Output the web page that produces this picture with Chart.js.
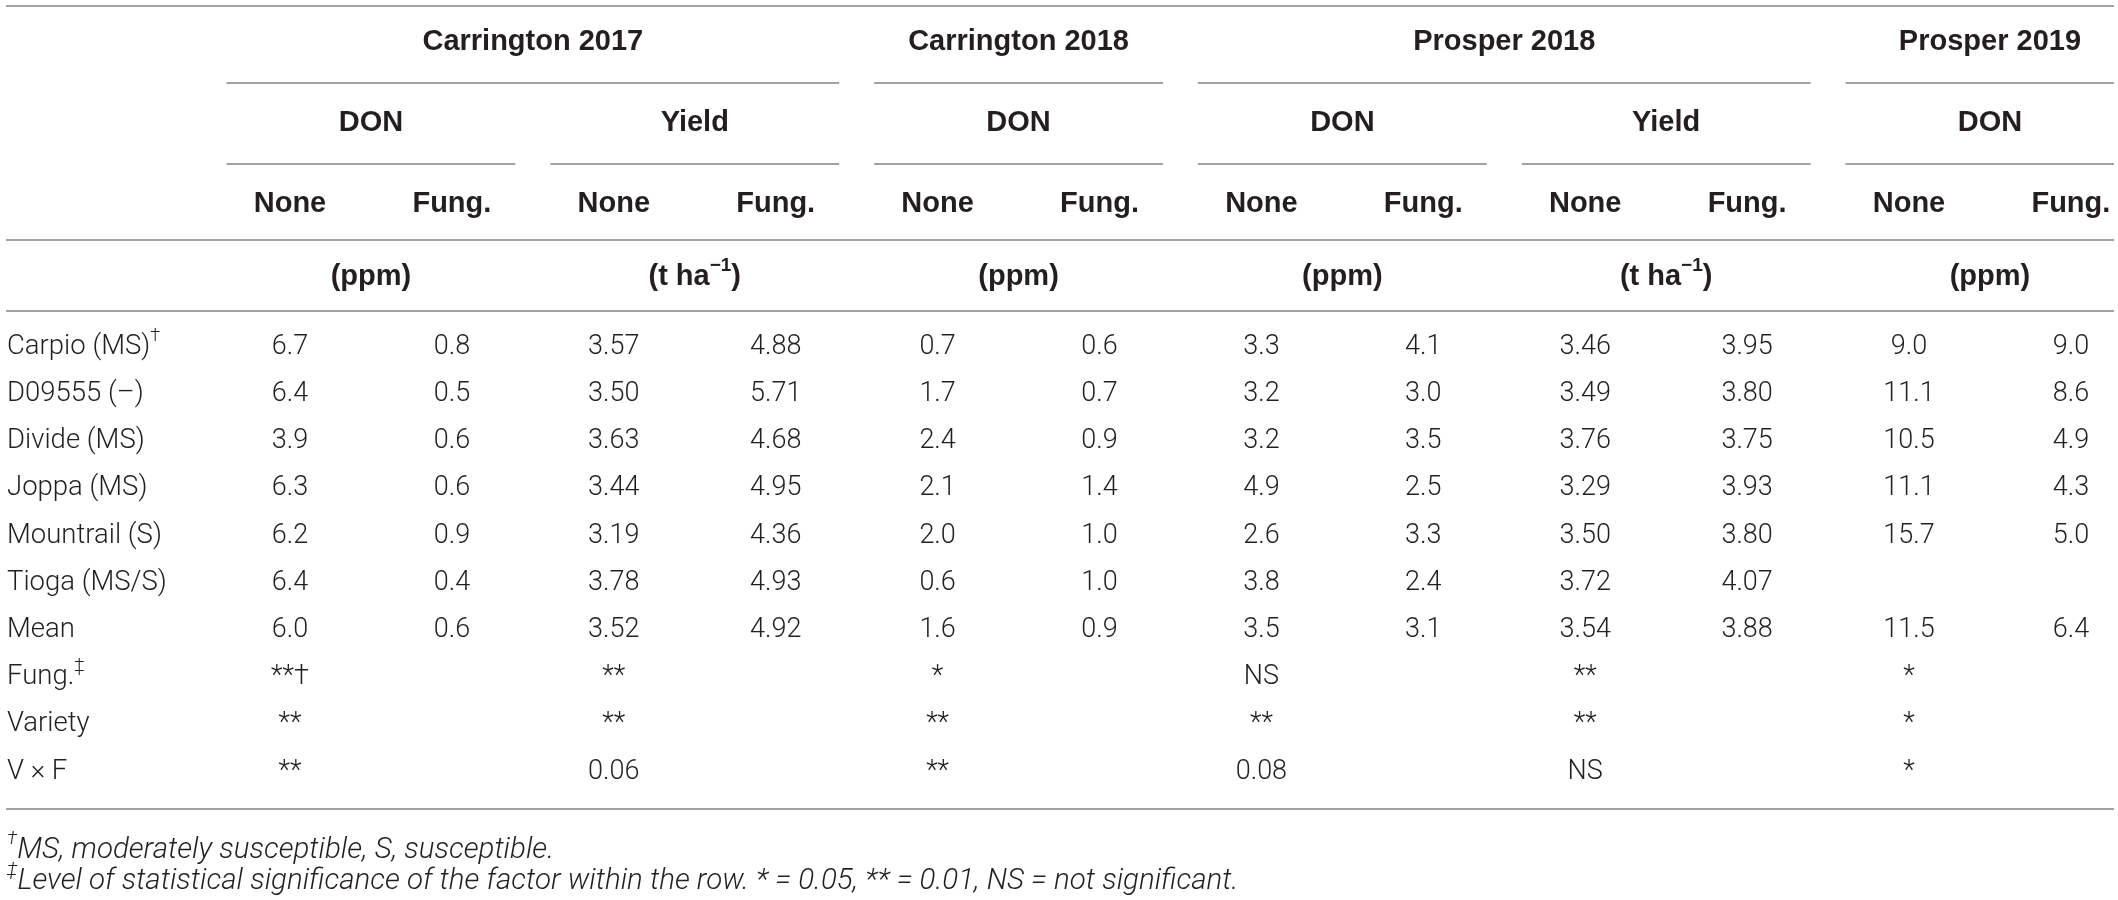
<!DOCTYPE html>
<html>
<head>
<meta charset="utf-8">
<script src="https://cdn.jsdelivr.net/npm/chart.js@4.4.1/dist/chart.umd.min.js"></script>
<style>
  html, body { margin: 0; padding: 0; background: #fff; }
  #wrap { width: 2118px; height: 900px; }
</style>
</head>
<body>
<div id="wrap"><canvas id="table" width="2118" height="900"></canvas></div>
<script>
// --- header categories ---
const sites = ['Carrington 2017', 'Carrington 2018', 'Prosper 2018', 'Prosper 2019']
const traits = ['DON', 'Yield', 'DON', 'DON', 'Yield', 'DON']
const traitSite = [0, 0, 1, 2, 2, 3]
const traitUnits = ['(ppm)', '(t ha^−1^)', '(ppm)', '(ppm)', '(t ha^−1^)', '(ppm)']
const treatments = ['None', 'Fung.']

// --- row categories ('^' toggles superscript) ---
const varieties = ['Carpio (MS)^†', 'D09555 (–)', 'Divide (MS)', 'Joppa (MS)', 'Mountrail (S)', 'Tioga (MS/S)', 'Mean']
const factors = ['Fung.^‡', 'Variety', 'V × F']

// --- series values, one per column (rows: varieties then mean) ---
const c17DonNone = [6.7, 6.4, 3.9, 6.3, 6.2, 6.4, 6.0]
const c17DonFung = [0.8, 0.5, 0.6, 0.6, 0.9, 0.4, 0.6]
const c17YieldNone = [3.57, 3.50, 3.63, 3.44, 3.19, 3.78, 3.52]
const c17YieldFung = [4.88, 5.71, 4.68, 4.95, 4.36, 4.93, 4.92]
const c18DonNone = [0.7, 1.7, 2.4, 2.1, 2.0, 0.6, 1.6]
const c18DonFung = [0.6, 0.7, 0.9, 1.4, 1.0, 1.0, 0.9]
const p18DonNone = [3.3, 3.2, 3.2, 4.9, 2.6, 3.8, 3.5]
const p18DonFung = [4.1, 3.0, 3.5, 2.5, 3.3, 2.4, 3.1]
const p18YieldNone = [3.46, 3.49, 3.76, 3.29, 3.50, 3.72, 3.54]
const p18YieldFung = [3.95, 3.80, 3.75, 3.93, 3.80, 4.07, 3.88]
const p19DonNone = [9.0, 11.1, 10.5, 11.1, 15.7, null, 11.5]
const p19DonFung = [9.0, 8.6, 4.9, 4.3, 5.0, null, 6.4]

// --- significance, one entry per trait group ---
const sigFung = ['**†', '**', '*', 'NS', '**', '*']
const sigVariety = ['**', '**', '**', '**', '**', '*']
const sigVxF = ['**', '0.06', '**', '0.08', 'NS', '*']

const footnotes = [
  '^†^MS, moderately susceptible, S, susceptible.',
  '^‡^Level of statistical significance of the factor within the row. * = 0.05, ** = 0.01, NS = not significant.'
]

// --- layout (in column / row units) ---
const COL_STEP = 161.9, FIRST_COL_PX = 290
const ROW_STEP = 47.2, FIRST_ROW_PX = 347
const WIDTH = 2118, HEIGHT = 900
const xMin = 1 - FIRST_COL_PX / COL_STEP
const xMax = xMin + WIDTH / COL_STEP
const yMin = -FIRST_ROW_PX / ROW_STEP
const yMax = yMin + HEIGHT / ROW_STEP
const ruleLeft = xMin + 6 / COL_STEP
const ruleRight = xMin + 2114 / COL_STEP
const labelX = xMin + 7 / COL_STEP
const halfGap = 0.108

const rowY = { site: -6.46, trait: -4.75, treat: -3.03, unit: -1.48 }
const ruleY = { top: -7.225, site: -5.593, trait: -3.877, head: -2.267, unit: -0.763, bottom: 9.788 }
const noteY = [10.66, 11.33]

const INK = '#231f20'
const RULE = '#a2a2a2'
const styles = {
  head: { font: 'bold', size: 29, family: '"Liberation Sans", Arial, sans-serif', align: 'center' },
  body: { font: '300', size: 27, family: 'Roboto, "Liberation Sans", sans-serif', align: 'center' },
  label: { font: '300', size: 27.5, family: 'Roboto, "Liberation Sans", sans-serif', align: 'left' },
  note: { font: 'italic 300', size: 29.5, family: 'Roboto, "Liberation Sans", sans-serif', align: 'left' }
}

const series = [c17DonNone, c17DonFung, c17YieldNone, c17YieldFung, c18DonNone, c18DonFung,
  p18DonNone, p18DonFung, p18YieldNone, p18YieldFung, p19DonNone, p19DonFung]

function siteSpan(s) {
  const groups = traitSite.map((v, g) => v === s ? g : -1).filter(g => g >= 0)
  return [2 * groups[0] + 1, 2 * groups[groups.length - 1] + 2]
}

function buildTextSets() {
  const body = []
  series.forEach((values, c) => {
    const decimals = traits[Math.floor(c / 2)] === 'Yield' ? 2 : 1
    values.forEach((v, r) => {
      if (v !== null) body.push({ x: c + 1, y: r, text: v.toFixed(decimals) })
    })
  })
  ;[sigFung, sigVariety, sigVxF].forEach((arr, k) => {
    arr.forEach((t, g) => body.push({ x: 2 * g + 1, y: varieties.length + k, text: t }))
  })

  const labels = varieties.concat(factors).map((t, r) => ({ x: labelX, y: r, text: t }))

  const head = []
  sites.forEach((name, s) => {
    const [first, last] = siteSpan(s)
    head.push({ x: (first + last) / 2, y: rowY.site, text: name })
  })
  traits.forEach((t, g) => {
    head.push({ x: 2 * g + 1.5, y: rowY.trait, text: t })
    head.push({ x: 2 * g + 1.5, y: rowY.unit, text: traitUnits[g] })
    treatments.forEach((tr, k) => head.push({ x: 2 * g + 1 + k, y: rowY.treat, text: tr }))
  })

  const notes = footnotes.map((t, i) => ({ x: labelX, y: noteY[i], text: t }))

  const textSet = (data, style) => ({ data, textStyle: style, pointRadius: 0, pointHoverRadius: 0 })
  return [textSet(head, styles.head), textSet(body, styles.body), textSet(labels, styles.label), textSet(notes, styles.note)]
}

function rule(x0, x1, y) {
  return {
    data: [{ x: Math.max(x0, ruleLeft), y }, { x: Math.min(x1, ruleRight), y }],
    showLine: true, borderColor: RULE, borderWidth: 2, pointRadius: 0, pointHoverRadius: 0
  }
}

function buildRules() {
  const rules = [ruleY.top, ruleY.head, ruleY.unit, ruleY.bottom].map(y => rule(ruleLeft, ruleRight, y))
  sites.forEach((name, s) => {
    const [first, last] = siteSpan(s)
    rules.push(rule(first - 0.5 + halfGap, last + 0.5 - halfGap, ruleY.site))
  })
  traits.forEach((t, g) => rules.push(rule(2 * g + 0.5 + halfGap, 2 * g + 2.5 - halfGap, ruleY.trait)))
  return rules
}

// draws text where '^' switches between normal and superscript runs
function drawRich(ctx, text, x, y, style) {
  const parts = text.split('^')
  const supSize = Math.round(style.size * 0.66)
  const fontFor = sup => `${style.font} ${sup ? supSize : style.size}px ${style.family}`
  let width = 0
  parts.forEach((p, i) => {
    ctx.font = fontFor(i % 2 === 1)
    width += ctx.measureText(p).width
  })
  let cx = style.align === 'center' ? x - width / 2 : x
  parts.forEach((p, i) => {
    const sup = i % 2 === 1
    ctx.font = fontFor(sup)
    ctx.fillText(p, cx, sup ? y - style.size * 0.38 : y)
    cx += ctx.measureText(p).width
  })
}

const tableText = {
  id: 'tableText',
  afterDatasetsDraw(chart) {
    const ctx = chart.ctx
    ctx.save()
    ctx.fillStyle = INK
    ctx.textAlign = 'left'
    ctx.textBaseline = 'middle'
    chart.data.datasets.forEach((ds, i) => {
      if (!ds.textStyle) return
      chart.getDatasetMeta(i).data.forEach((pt, j) => {
        drawRich(ctx, ds.data[j].text, pt.x, pt.y, ds.textStyle)
      })
    })
    ctx.restore()
  }
}

new Chart(document.querySelector('#table'), {
  type: 'scatter',
  data: { datasets: buildRules().concat(buildTextSets()) },
  options: {
    responsive: false,
    animation: false,
    devicePixelRatio: 1,
    events: [],
    layout: { padding: 0 },
    scales: {
      x: { type: 'linear', min: xMin, max: xMax, display: false },
      y: { type: 'linear', min: yMin, max: yMax, reverse: true, display: false }
    },
    plugins: { legend: { display: false }, tooltip: { enabled: false } }
  },
  plugins: [tableText]
})
</script>
</body>
</html>
